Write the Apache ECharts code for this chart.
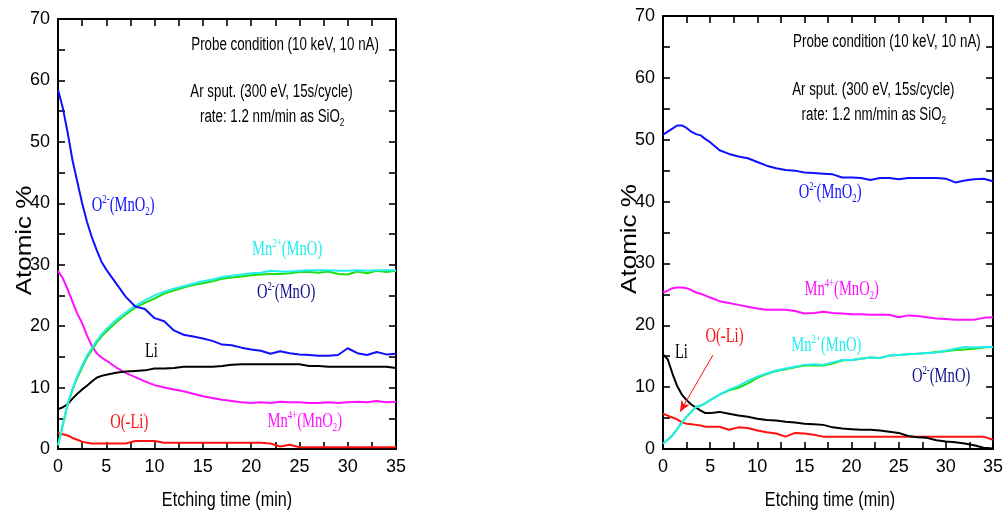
<!DOCTYPE html>
<html><head><meta charset="utf-8">
<script src="https://cdn.jsdelivr.net/npm/echarts@6/dist/echarts.min.js"></script>
<style>html,body{margin:0;padding:0;background:#fff}#c{width:1006px;height:514px}</style>
</head><body><div id="c"></div>
<script>
// ---------- DATA ----------
const T = [0,0.5,1,1.5,2,2.5,3,3.5,4,4.5,5,6,7,8,9,10,11,12,13,14,15,16,17,18,19,20,21,22,23,24,25,26,27,28,29,30,31,32,33,34,35];
const X_TICKS = [0,5,10,15,20,25,30,35];
const Y_TICKS = [0,10,20,30,40,50,60,70];

// Left panel
const L_O2_MNO2 = [58.5,55.5,51.5,47,43.5,40,37,34.5,32.4,30.5,29.2,27,24.8,23.2,22.8,21.3,20.8,19.3,18.6,18.3,18,17.6,17.0,16.9,16.5,16.2,16,15.5,15.9,15.6,15.4,15.3,15.2,15.2,15.3,16.4,15.6,15.3,15.8,15.4,15.5];
const L_MN2_MNO = [0.6,4.0,7.4,9.8,11.9,13.6,15.2,16.4,17.6,18.6,19.5,21,22.2,23.3,24.2,25,25.6,26.1,26.5,26.9,27.3,27.6,28,28.2,28.4,28.6,28.7,29,28.9,28.9,29,29.1,29.1,29.1,29,29,29.1,29,29.1,29.1,29.1];
const L_O2_MNO  = [0.6,3.9,7.2,9.6,11.6,13.3,14.9,16.1,17.3,18.3,19.1,20.6,21.9,23.0,23.8,24.5,25.3,25.8,26.3,26.7,27.0,27.3,27.7,27.9,28.1,28.3,28.4,28.5,28.5,28.6,28.8,28.8,28.7,28.9,28.5,28.4,28.9,28.6,29.0,28.8,29.0];
const L_LI      = [6.5,6.8,7.3,8.2,9.0,9.7,10.3,11.0,11.6,11.9,12.1,12.4,12.6,12.7,12.8,13.1,13.1,13.2,13.4,13.4,13.4,13.4,13.5,13.7,13.8,13.8,13.8,13.8,13.8,13.8,13.8,13.5,13.5,13.4,13.4,13.4,13.4,13.4,13.4,13.4,13.2];
const L_MN4_MNO2= [29.0,27.8,26.0,24.0,22.0,20.5,18.5,16.8,15.6,14.9,14.4,13.3,12.4,11.7,11.0,10.4,10.0,9.7,9.4,9.0,8.6,8.3,8.0,7.8,7.6,7.5,7.6,7.5,7.7,7.6,7.6,7.5,7.5,7.6,7.5,7.6,7.7,7.6,7.8,7.6,7.7];
const L_O_LI    = [2.6,2.4,2.2,1.8,1.5,1.2,1.0,0.9,0.9,0.9,0.9,0.9,0.9,1.3,1.3,1.3,1.0,1.0,1.0,1.0,1.0,1.0,1.0,1.0,1.0,1.0,1.0,0.9,0.4,0.7,0.3,0.3,0.3,0.3,0.3,0.3,0.3,0.3,0.3,0.3,0.3];

// Right panel
const R_O2_MNO2 = [50.8,51.3,51.8,52.3,52.3,51.9,51.3,50.9,50.7,50.1,49.6,48.3,47.7,47.3,47.0,46.4,45.8,45.4,45.1,45.0,44.7,44.6,44.5,44.4,43.9,43.9,43.8,43.5,43.8,43.8,43.6,43.8,43.8,43.8,43.8,43.7,43.1,43.4,43.6,43.7,43.3];
const R_MN4_MNO2= [25.3,25.6,26.0,26.1,26.1,26.0,25.7,25.3,25.1,24.8,24.5,23.9,23.6,23.3,23.0,22.7,22.5,22.5,22.5,22.3,21.9,22.0,22.2,22.0,21.9,21.8,21.8,21.7,21.7,21.7,21.3,21.6,21.5,21.3,21.1,21.0,20.9,20.9,20.9,21.2,21.3];
const R_MN2_MNO = [0.9,1.5,2.2,3.2,4.3,5.2,6.0,6.8,7.0,7.4,7.9,8.8,9.6,10.2,11.0,11.7,12.2,12.7,13.0,13.3,13.6,13.7,13.6,14.0,14.4,14.4,14.6,14.8,14.7,15.1,15.2,15.3,15.4,15.5,15.6,15.9,16.2,16.5,16.4,16.5,16.5];
const R_O2_MNO  = [0.9,1.5,2.2,3.2,4.3,5.2,6.0,6.8,7.0,7.4,7.9,8.8,9.5,9.9,10.6,11.5,12.1,12.6,12.9,13.2,13.5,13.5,13.5,13.8,14.3,14.4,14.6,14.8,14.7,15.1,15.2,15.3,15.4,15.5,15.7,15.8,16.0,16.1,16.2,16.4,16.5];
const R_LI      = [15.3,14.5,12.2,10.2,8.8,7.9,7.2,6.7,6.2,5.8,5.8,6.0,5.7,5.4,5.2,4.9,4.7,4.6,4.4,4.3,4.1,4.0,3.9,3.5,3.3,3.2,3.1,3.1,3.0,2.8,2.6,2.1,1.9,1.8,1.4,1.2,1.1,0.9,0.6,0.2,0.1];
const R_O_LI    = [5.7,5.4,5.1,4.8,4.3,4.1,4.0,3.9,3.8,3.6,3.6,3.6,3.1,3.5,3.4,3.0,2.7,2.5,2.0,2.6,2.5,2.3,2.0,2.0,2.0,2.0,2.0,2.0,2.0,2.0,2.0,2.0,2.0,2.0,2.0,2.0,2.0,2.0,2.0,2.0,1.5];

// ---------- STYLE ----------
const C = {blue:'#1010ff', cyan:'#22eef0', green:'#22dd10', magenta:'#ff10ff', red:'#ff1010', black:'#000000', navy:'#101088'};
const SANS = "'Liberation Sans', Arial, sans-serif";
const NARROW = "'Liberation Sans Narrow', 'Liberation Sans', Arial, sans-serif";
const SERIF = "'Liberation Serif', 'Times New Roman', serif";
const GRIDS = [
  {left:58, top:19, width:338, height:430, show:false},
  {left:663, top:16, width:334, height:433, show:false}
];

// ticks every half label step; only label steps get text
function xAxis(gi, pos){
  const labelSet = new Set(X_TICKS);
  return {gridIndex:gi, type:'value', position:pos, min:X_TICKS[0], max:X_TICKS[X_TICKS.length-1], interval:2.5,
    axisLine:{show:true, onZero:false, lineStyle:{color:'#000', width:2}},
    axisTick:{show:true, inside:true, length:7, lineStyle:{color:'#000', width:1.6}},
    axisLabel:{show:pos==='bottom', color:'#000', fontSize:18, fontFamily:NARROW, margin:9, showMinLabel:true, showMaxLabel:true,
      formatter:v=>labelSet.has(v)?String(v):''},
    splitLine:{show:false}};
}
function yAxis(gi, pos){
  const labelSet = new Set(Y_TICKS);
  return {gridIndex:gi, type:'value', position:pos, min:Y_TICKS[0], max:Y_TICKS[Y_TICKS.length-1], interval:5,
    axisLine:{show:true, onZero:false, lineStyle:{color:'#000', width:2}},
    axisTick:{show:true, inside:true, length:7, lineStyle:{color:'#000', width:1.6}},
    axisLabel:{show:pos==='left', color:'#000', fontSize:18, fontFamily:NARROW, margin:8, showMinLabel:true, showMaxLabel:true,
      formatter:v=>labelSet.has(v)?String(v):''},
    splitLine:{show:false}};
}
function line(name, arr, color, ax, extra){
  return Object.assign({name, type:'line', xAxisIndex:ax, yAxisIndex:ax, data:T.map((t,i)=>[t,arr[i]]),
    showSymbol:false, symbol:'none', lineStyle:{color, width:2}, itemStyle:{color}, animation:false}, extra||{});
}

const chart = echarts.init(document.getElementById('c'), null, {renderer:'canvas'});
chart.setOption({
  animation:false,
  backgroundColor:'#fff',
  grid: GRIDS,
  xAxis:[xAxis(0,'bottom'), xAxis(0,'top'), xAxis(1,'bottom'), xAxis(1,'top')],
  yAxis:[yAxis(0,'left'), yAxis(0,'right'), yAxis(1,'left'), yAxis(1,'right')],
  series:[
    line('L O(-Li)', L_O_LI, C.red, 0),
    line('L Mn4+', L_MN4_MNO2, C.magenta, 0),
    line('L Li', L_LI, C.black, 0),
    line('L O2-(MnO)', L_O2_MNO, C.green, 0),
    line('L Mn2+', L_MN2_MNO, C.cyan, 0),
    line('L O2-(MnO2)', L_O2_MNO2, C.blue, 0),
    line('R O(-Li)', R_O_LI, C.red, 2, {markLine:{silent:true, symbol:['none','arrow'], symbolSize:[7,11],
      lineStyle:{color:C.red, width:1, type:'solid'}, label:{show:false},
      data:[[{coord:[5.3,15.2]},{coord:[1.8,6.0]}]]}}),
    line('R Li', R_LI, C.black, 2),
    line('R Mn4+', R_MN4_MNO2, C.magenta, 2),
    line('R O2-(MnO)', R_O2_MNO, C.green, 2),
    line('R Mn2+', R_MN2_MNO, C.cyan, 2),
    line('R O2-(MnO2)', R_O2_MNO2, C.blue, 2)
  ]
});

// ---------- TEXT ----------
const TEXTS = {
  O2MnO2:'{n|O}{sup|2-}{n|(MnO}{sub|2}{n|)}',
  Mn2MnO:'{n|Mn}{sup|2+}{n|(MnO)}',
  O2MnO:'{n|O}{sup|2-}{n|(MnO)}',
  Mn4MnO2:'{n|Mn}{sup|4+}{n|(MnO}{sub|2}{n|)}',
  Li:'{n|Li}',
  OLi:'{n|O(-Li)}'
};
const LABELS = [
  [0,'O2MnO2',3.5,39.6,C.blue],[0,'Mn2MnO',20.1,32.4,C.cyan],[0,'O2MnO',20.6,25.4,C.navy],
  [0,'Li',9.0,15.8,C.black],[0,'OLi',5.4,4.2,C.red],[0,'Mn4MnO2',21.7,4.4,C.magenta],
  [1,'O2MnO2',14.4,41.4,C.blue],[1,'Mn4MnO2',15.0,25.7,C.magenta],[1,'OLi',4.5,18.1,C.red],
  [1,'Li',1.26,15.5,C.black],[1,'Mn2MnO',13.6,16.7,C.cyan],[1,'O2MnO',26.4,11.6,C.navy]
];
const NOTES = [
  ['{s|Probe condition (10 keV, 10 nA)}',13.8,65.8],
  ['{s|Ar sput. (300 eV, 15s/cycle)}',13.7,58.1],
  ['{s|rate: 1.2 nm/min as SiO}{sb|2}',14.7,54.0]
];
function px(panel, x, y){ return chart.convertToPixel({xAxisIndex:panel*2, yAxisIndex:panel*2},[x,y]); }
const g = [];
LABELS.forEach(([p,k,x,y,col])=>{
  const pt = px(p,x,y);
  g.push({type:'text', x:pt[0], y:pt[1], scaleX:0.73, silent:true, z:50,
    style:{text:TEXTS[k], textAlign:'left', verticalAlign:'middle',
      rich:{
        n:{fill:col, fontSize:20, fontFamily:SERIF, lineHeight:24},
        sup:{fill:col, fontSize:12, fontFamily:SERIF, verticalAlign:'top', lineHeight:12},
        sub:{fill:col, fontSize:12, fontFamily:SERIF, verticalAlign:'bottom', lineHeight:12}
      }}});
});
[0,1].forEach(p=>{
  NOTES.forEach(([t,x,y])=>{
    const pt = px(p,x,y);
    g.push({type:'text', x:pt[0], y:pt[1], scaleX:0.74, silent:true, z:50,
      style:{text:t, textAlign:'left', verticalAlign:'middle',
        rich:{
          s:{fill:'#000', fontSize:18, fontFamily:SANS, lineHeight:22},
          sb:{fill:'#000', fontSize:11, fontFamily:SANS, verticalAlign:'bottom', lineHeight:11}
        }}});
  });
  const gr = GRIDS[p];
  g.push({type:'text', x:gr.left+gr.width/2, y:gr.top+gr.height+51, scaleX:0.77, silent:true,
    style:{text:'Etching time (min)', fill:'#000', fontSize:21, fontFamily:SANS, textAlign:'center', verticalAlign:'middle'}});
  g.push({type:'text', x:gr.left-33, y:gr.top+gr.height*0.515, rotation:Math.PI/2, scaleY:0.85, silent:true,
    style:{text:'Atomic %', fill:'#000', fontSize:26, fontFamily:SANS, textAlign:'center', verticalAlign:'middle'}});
});
chart.setOption({graphic:g});
</script></body></html>
